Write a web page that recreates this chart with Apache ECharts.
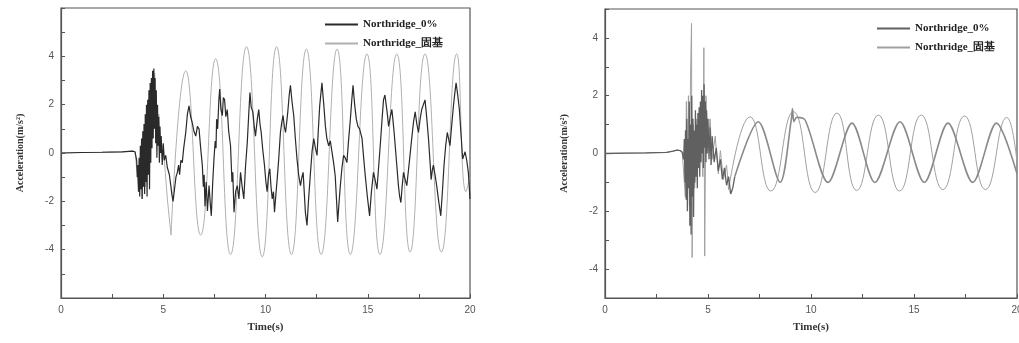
<!DOCTYPE html>
<html>
<head>
<meta charset="utf-8">
<script src="https://cdn.jsdelivr.net/npm/echarts@6/dist/echarts.min.js"></script>
<style>
html,body{margin:0;padding:0;background:#fff;}
#left{position:absolute;left:0;top:0;width:515px;height:343px;}
#right{position:absolute;left:515px;top:0;width:504px;height:343px;}
</style>
</head>
<body>
<div id="left"></div>
<div id="right"></div>
<script>
// ---------- names & ticks ----------
const seriesNames = ['Northridge_0%', 'Northridge_固基'];
const xTickLabels = [0, 5, 10, 15, 20];
const yTickLabels = [-4, -2, 0, 2, 4];
const xAxisName = 'Time(s)';
const yAxisName = 'Acceleration(m/s²)';

// ---------- left chart: Northridge_0% (noisy) [time, acc] ----------
const left0Pts = [
 [0,0],[1,0.02],[2,0.03],[3,0.05],[3.5,0.08],[3.62,0.05],
 [3.70,-0.3],[3.73,-1.0],[3.76,-0.5],[3.79,-1.6],[3.82,-0.2],[3.85,-1.8],[3.88,0.3],[3.91,-1.5],[3.94,0.6],[3.97,-1.9],
 [4.00,0.9],[4.03,-1.4],[4.06,1.2],[4.09,-1.7],[4.12,1.6],[4.15,-1.2],[4.18,2.0],[4.21,-1.8],[4.24,2.2],[4.27,-0.9],
 [4.30,2.6],[4.33,-1.5],[4.36,2.9],[4.39,-0.4],[4.42,3.1],[4.45,0.2],[4.48,3.4],[4.51,0.6],[4.54,3.5],[4.57,1.0],
 [4.60,3.1],[4.63,0.4],[4.66,2.6],[4.69,-0.2],[4.72,2.0],[4.75,0.3],[4.78,1.5],[4.81,-0.4],[4.84,1.1],[4.87,0.0],
 [4.90,0.7],[4.95,-0.5],[5.00,0.4],[5.05,-0.3],[5.12,-0.1],[5.2,-0.6],[5.3,-0.9],[5.37,-1.35],[5.42,-1.7],[5.48,-2.0],
 [5.55,-1.5],[5.62,-1.0],[5.69,-0.8],[5.75,-0.5],[5.8,-0.9],[5.86,-0.3],[5.93,-0.4],[6.0,0.2],[6.1,0.85],[6.18,1.6],
 [6.26,1.95],[6.34,1.5],[6.42,1.25],[6.5,0.9],[6.59,0.7],[6.67,1.1],[6.75,1.0],[6.83,0.2],[6.91,-0.5],[6.96,-1.4],
 [7.0,-0.9],[7.04,-2.2],[7.1,-1.2],[7.16,-2.4],[7.24,-1.35],[7.3,-2.1],[7.35,-2.6],[7.42,-1.2],[7.48,-0.25],[7.54,0.5],
 [7.58,0.2],[7.61,1.4],[7.66,1.0],[7.72,2.2],[7.76,2.65],[7.82,1.8],[7.89,1.55],[7.94,2.3],[8.0,2.2],[8.06,1.5],
 [8.13,1.8],[8.2,0.9],[8.29,0.3],[8.36,-1.2],[8.4,-0.8],[8.46,-2.45],[8.54,-1.6],[8.62,-1.35],[8.7,-1.9],[8.78,-0.8],
 [8.86,-1.4],[8.94,-1.9],[9.02,-0.6],[9.11,0.45],[9.18,1.6],[9.24,2.5],[9.3,1.9],[9.38,1.7],[9.45,1.1],[9.51,0.7],
 [9.6,1.4],[9.67,1.8],[9.73,1.2],[9.79,0.85],[9.87,0.1],[9.95,-0.5],[10.02,-1.2],[10.08,-1.6],[10.15,-0.9],[10.21,-0.65],
 [10.27,-1.4],[10.33,-1.9],[10.39,-1.6],[10.44,-2.45],[10.5,-1.8],[10.57,-1.1],[10.65,-0.2],[10.73,0.85],[10.8,1.3],[10.86,1.55],
 [10.92,1.1],[10.98,0.85],[11.04,1.3],[11.09,1.7],[11.16,2.4],[11.22,2.8],[11.3,2.1],[11.38,1.55],[11.46,0.6],[11.54,-0.25],
 [11.62,-0.9],[11.71,-1.35],[11.78,-1.0],[11.84,-0.8],[11.9,-1.7],[11.95,-2.45],[12.03,-3.0],[12.1,-2.0],[12.2,-0.8],[12.28,0.1],
 [12.36,0.6],[12.44,0.2],[12.52,-0.1],[12.58,0.9],[12.65,1.95],[12.76,2.9],[12.85,2.0],[12.93,1.1],[13.0,0.6],[13.09,0.3],
 [13.17,0.5],[13.25,0.05],[13.33,-0.4],[13.41,-0.95],[13.47,-1.9],[13.53,-2.85],[13.6,-2.0],[13.66,-1.35],[13.74,-0.6],[13.82,-0.1],
 [13.9,-0.2],[13.98,-0.4],[14.06,0.5],[14.15,1.4],[14.22,2.2],[14.28,2.8],[14.36,2.0],[14.44,1.4],[14.52,1.1],[14.6,1.0],
 [14.66,0.8],[14.72,0.6],[14.8,-0.2],[14.88,-0.95],[14.98,-1.8],[15.09,-2.6],[15.18,-1.6],[15.28,-0.8],[15.36,-1.1],[15.45,-1.5],
 [15.53,-0.6],[15.61,0.3],[15.7,1.4],[15.77,2.2],[15.84,2.4],[15.9,2.35],[15.96,1.6],[16.02,1.1],[16.1,1.5],[16.18,1.8],
 [16.24,1.3],[16.29,0.85],[16.4,-0.3],[16.5,-1.35],[16.56,-1.8],[16.62,-2.05],[16.68,-1.4],[16.75,-0.8],[16.83,-1.1],[16.91,-1.35],
 [17.03,-0.4],[17.15,0.6],[17.24,1.3],[17.32,1.7],[17.4,1.2],[17.48,0.85],[17.56,1.4],[17.64,1.8],[17.72,2.0],[17.8,2.2],
 [17.88,1.5],[17.97,0.6],[18.04,-0.3],[18.1,-1.1],[18.16,-0.7],[18.21,-0.5],[18.29,-0.9],[18.37,-1.35],[18.47,-2.0],[18.57,-2.6],
 [18.65,-1.6],[18.73,-0.5],[18.81,0.3],[18.89,0.85],[18.95,0.6],[19.02,0.3],[19.1,1.1],[19.19,1.95],[19.26,2.5],[19.32,2.9],
 [19.4,2.4],[19.48,1.8],[19.56,0.8],[19.64,-0.25],[19.7,-0.1],[19.76,0.05],[19.84,-0.3],[19.92,-0.8],[20.0,-1.9]
];
// ---------- left chart: Northridge_固基 ----------
const left1EarlyPts = [
 [0,0],[1,0.02],[2,0.03],[3,0.05],[3.5,0.08],[3.62,0.05],[3.72,-0.8],[3.8,-1.6],[3.88,-0.3],[3.95,-1.9],
 [4.05,0.8],[4.15,-1.4],[4.25,1.9],[4.33,-0.6],[4.42,2.6],[4.5,1.2],[4.58,3.3],[4.68,1.0],[4.78,1.6],[4.88,0.2],
 [5.0,0.3],[5.1,-0.8],[5.2,-1.9],[5.38,-3.4]
];
const left1WavePts = [
 [5.38,-3.4],[6.1,3.4],[6.83,-3.4],[7.56,3.9],[8.29,-4.2],[9.07,4.4],[9.84,-4.3],[10.54,4.4],[11.27,-4.2],[12.0,4.3],
 [12.72,-4.2],[13.5,4.3],[14.15,-4.2],[14.96,4.1],[15.6,-4.2],[16.42,4.1],[17.07,-4.1],[17.8,4.1],[18.6,-4.1],[19.35,4.1],
 [19.8,-1.6],[20,-1.0]
];

// ---------- right chart: Northridge_0% ----------
const right0EarlyPts = [
 [0,0],[1,0.01],[2,0.02],[3,0.04],[3.3,0.08],[3.5,0.12],[3.65,0.1],[3.75,0.04],[3.82,-0.2],
 [3.85,0.5],[3.88,-1.0],[3.91,0.8],[3.94,-1.6],[3.97,1.2],[4.00,-2.0],[4.03,0.5],[4.06,-1.2],[4.09,1.8],[4.12,-2.5],
 [4.15,1.0],[4.18,-2.8],[4.21,2.0],[4.24,-1.5],[4.27,1.2],[4.30,-2.2],[4.33,0.8],[4.36,-1.0],[4.39,1.5],[4.42,-0.8],
 [4.45,1.0],[4.48,-1.2],[4.51,1.4],[4.54,-0.5],[4.57,1.6],[4.60,-0.8],[4.63,1.8],[4.66,-0.3],[4.69,2.2],[4.72,0.0],
 [4.75,2.0],[4.78,-0.5],[4.81,2.4],[4.84,0.2],[4.87,1.8],[4.90,-0.3],[4.93,1.5],[4.96,0.0],[5.00,1.2],[5.05,-0.2],
 [5.10,0.9],[5.15,-0.4],[5.20,0.6],[5.30,-0.3],[5.40,0.2],[5.50,-0.6],[5.60,-0.2],[5.70,-0.9],[5.80,-0.5],[5.90,-1.1],
 [6.00,-0.8],[6.10,-1.4],[6.20,-1.2],[6.30,-0.8]
];
const right0WavePts = [
 [6.30,-0.8],[7.44,1.1],[8.5,-1.0],[9.05,1.2],[9.1,1.55],[9.17,1.1],[9.3,1.25],[9.72,1.15],[10.83,-1.0],[11.99,1.05],
 [13.1,-1.0],[14.32,1.1],[15.5,-1.0],[16.65,1.05],[17.85,-1.0],[19.0,1.05],[20.0,-0.7]
];
// ---------- right chart: Northridge_固基 ----------
const right1EarlyPts = [
 [0,0],[1,0.01],[2,0.02],[3,0.04],[3.3,0.08],[3.5,0.12],[3.65,0.1],[3.75,0.04],[3.82,0.0],[3.9,-1.5],
 [3.95,1.8],[4.0,-0.8],[4.05,2.0],[4.1,-1.8],[4.15,2.6],[4.2,4.5],[4.23,-3.6],[4.28,1.0],[4.35,-1.2],[4.45,1.2],
 [4.55,-0.5],[4.65,1.0],[4.75,-0.8],[4.8,3.66],[4.84,-3.55],[4.9,2.0],[5.0,0.2],[5.1,1.2],[5.2,-0.2],[5.35,0.6],
 [5.5,-0.7],[5.6,0.1],[5.75,-0.9],[5.9,-0.4],[6.0,-1.25]
];
const right1WavePts = [
 [6.0,-1.25],[7.04,1.27],[8.05,-1.3],[9.15,1.45],[10.2,-1.35],[11.26,1.4],[12.22,-1.28],[13.27,1.33],[14.3,-1.3],[15.35,1.33],
 [16.4,-1.25],[17.45,1.3],[18.47,-1.25],[19.5,1.25],[20,-0.3]
];

// ---------- styling ----------
const serif = '"Liberation Serif", "Times New Roman", serif';
const sans = '"Liberation Sans", Arial, sans-serif';
const axisColor = '#555';

function makeOption(cfg) {
  const xAxis = {
    type: 'value', min: 0, max: 20, interval: 2.5,
    name: xAxisName, nameLocation: 'middle', nameGap: 24,
    nameTextStyle: {fontFamily: serif, fontWeight: 'bold', fontSize: 11, color: '#333'},
    axisLine: {show: true, onZero: false, lineStyle: {color: axisColor, width: 1.2}},
    axisTick: {show: true, inside: true, length: 4, lineStyle: {color: axisColor}},
    axisLabel: {fontFamily: sans, fontSize: 10, color: '#555', margin: 7,
      formatter: v => xTickLabels.includes(v) ? String(v) : ''},
    splitLine: {show: false}
  };
  const yAxis = {
    type: 'value', min: cfg.yMin, max: cfg.yMax, interval: 1,
    name: yAxisName, nameLocation: 'middle', nameGap: cfg.yNameGap, nameRotate: 90,
    nameTextStyle: {fontFamily: serif, fontWeight: 'bold', fontSize: 10, color: '#333'},
    axisLine: {show: true, onZero: false, lineStyle: {color: axisColor, width: 1.2}},
    axisTick: {show: true, inside: true, length: 4, lineStyle: {color: axisColor}},
    axisLabel: {fontFamily: sans, fontSize: 10, color: '#555', margin: 7,
      formatter: v => yTickLabels.includes(v) ? String(v) : ''},
    splitLine: {show: false}
  };
  const mk = (name, data, color, width, smooth, z) => ({
    name, type: 'line', data, symbol: 'none', smooth, z,
    lineStyle: {color, width}, itemStyle: {color}, animation: false
  });
  return {
    animation: false,
    grid: Object.assign({show: true, outerBoundsMode: 'none', containLabel: false,
      borderColor: axisColor, borderWidth: 1.2, backgroundColor: 'transparent'}, cfg.grid),
    legend: {
      data: seriesNames, orient: 'vertical', left: cfg.legendLeft, top: cfg.legendTop,
      padding: 0, itemWidth: 33, itemHeight: 10, itemGap: 8,
      itemStyle: {opacity: 0},
      textStyle: {fontFamily: serif, fontWeight: 'bold', fontSize: 11, color: '#222'}
    },
    xAxis, yAxis,
    series: [
      mk(seriesNames[1], cfg.s1Early, cfg.c1, cfg.w1, false, 2),
      mk(seriesNames[1], cfg.s1Wave, cfg.c1, cfg.w1, 0.5, 2),
      mk(seriesNames[0], cfg.s0Early, cfg.c0, cfg.w0, false, 3),
      mk(seriesNames[0], cfg.s0Wave, cfg.c0w || cfg.c0, cfg.w0w || cfg.w0, cfg.s0Smooth, 3)
    ]
  };
}

const leftChart = echarts.init(document.getElementById('left'), null, {renderer: 'canvas'});
leftChart.setOption(makeOption({
  grid: {left: 61, right: 45, top: 8, bottom: 45},
  yMin: -6, yMax: 6, yNameGap: 36,
  legendLeft: 324, legendTop: 19,
  s0Early: left0Pts, s0Wave: [], s0Smooth: false,
  s1Early: left1EarlyPts, s1Wave: left1WavePts,
  c0: '#2a2a2a', w0: 1.2, c1: '#b0b0b0', w1: 1
}));

const rightChart = echarts.init(document.getElementById('right'), null, {renderer: 'canvas'});
rightChart.setOption(makeOption({
  grid: {left: 90, right: 2, top: 9, bottom: 45},
  yMin: -5, yMax: 5, yNameGap: 36,
  legendLeft: 361, legendTop: 23,
  s0Early: right0EarlyPts, s0Wave: right0WavePts, s0Smooth: 0.3,
  s1Early: right1EarlyPts, s1Wave: right1WavePts,
  c0: '#606060', w0: 1.3, c0w: '#8a8a8a', w0w: 1.6, c1: '#a0a0a0', w1: 1
}));
</script>
</body>
</html>
